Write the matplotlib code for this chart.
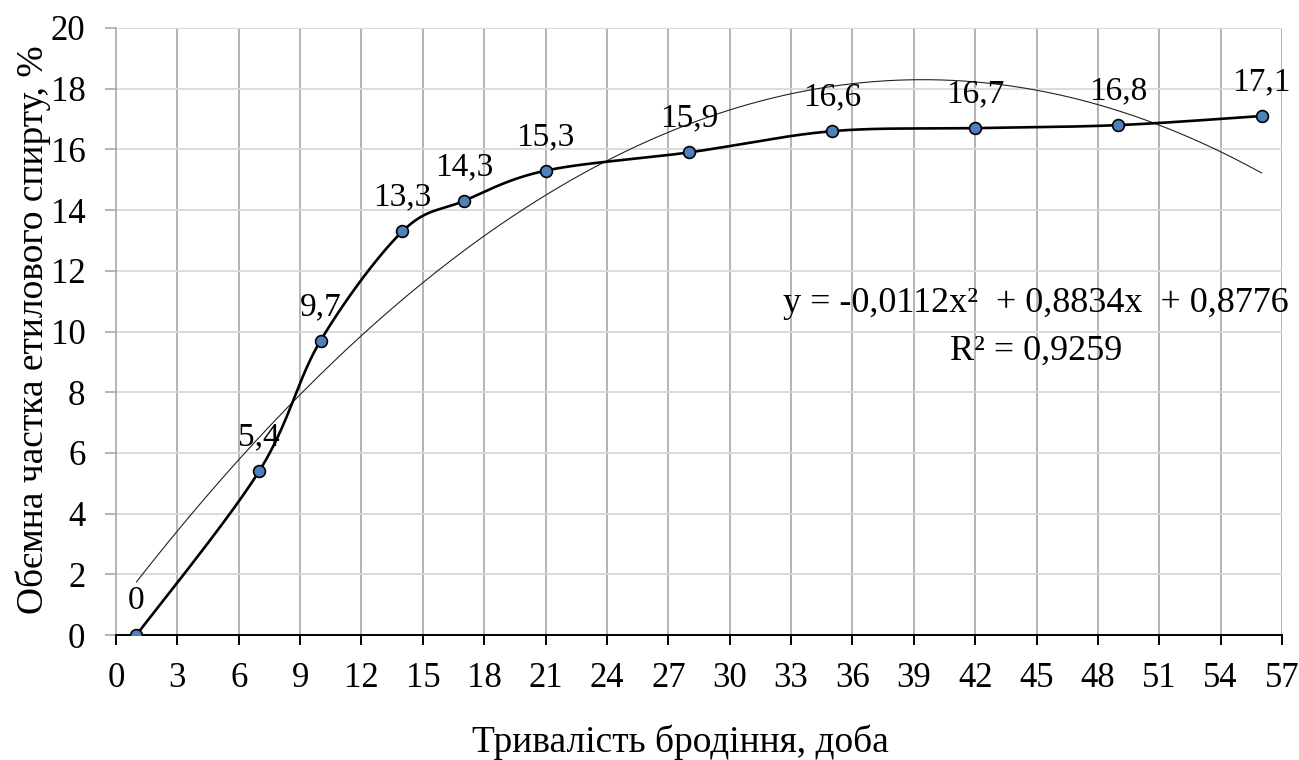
import numpy as np
import matplotlib
matplotlib.use("Agg")
import matplotlib.pyplot as plt

# ---- data ----
days = [1, 7, 10, 14, 17, 21, 28, 35, 42, 49, 56]
ethanol = [0, 5.4, 9.7, 13.3, 14.3, 15.3, 15.9, 16.6, 16.7, 16.8, 17.1]
labels = ["0", "5,4", "9,7", "13,3", "14,3", "15,3", "15,9", "16,6", "16,7", "16,8", "17,1"]
# trendline coefficients shown on chart
coef_a, coef_b, coef_c = -0.0112, 0.8834, 0.8776
eq_line1 = "y = -0,0112x²  + 0,8834x  + 0,8776"
eq_line2 = "R² = 0,9259"
x_ticks = list(range(0, 58, 3))
y_ticks = list(range(0, 21, 2))
x_title = "Тривалість бродіння, доба"
y_title = "Обємна частка етилового спирту, %"

plt.rcParams['font.family'] = ['Liberation Serif', 'DejaVu Serif']
FS_TICK = 25
FS_LAB = 24
FS_EQ = 26
FS_TITLE = 27

W, H = 1299, 760
fig = plt.figure(figsize=(W / 100, H / 100), dpi=100)
ax = fig.add_axes([116 / W, 1 - 635 / H, (1282 - 116) / W, (635 - 28) / H])

# smoothed line (Catmull-Rom -> Bezier, like Excel smoothing)
P = np.column_stack([days, ethanol]).astype(float)
n = len(P)
curve = []
t = np.linspace(0, 1, 40)
for i in range(n - 1):
    p0 = P[i - 1] if i > 0 else P[i]
    p1 = P[i]
    p2 = P[i + 1]
    p3 = P[i + 2] if i + 2 < n else P[i + 1]
    b1 = p1 + (p2 - p0) / 6
    b2 = p2 - (p3 - p1) / 6
    seg = ((1 - t) ** 3)[:, None] * p1 + (3 * (1 - t) ** 2 * t)[:, None] * b1 \
        + (3 * (1 - t) * t ** 2)[:, None] * b2 + (t ** 3)[:, None] * p2
    curve.append(seg)
curve = np.vstack(curve)

# trendline
xt = np.linspace(days[0], days[-1], 300)
yt = coef_a * xt ** 2 + coef_b * xt + coef_c
ax.plot(xt, yt, color="#222222", lw=0.8, zorder=3)

ax.plot(curve[:, 0], curve[:, 1], color="black", lw=1.9, zorder=4, solid_capstyle='round')
ax.plot(days, ethanol, linestyle='none', marker='o', ms=8.5, mfc="#4F81BD",
        mec="black", mew=1.2, zorder=5)

for x, y, lab in zip(days, ethanol, labels):
    ax.annotate(lab, (x, y), xytext=(0, 18.5), textcoords='offset points',
                ha='center', va='baseline', fontsize=FS_LAB, zorder=6)

fig.text(1036 / W, 1 - 312 / H, eq_line1, ha='center', va='baseline', fontsize=FS_EQ, zorder=6)
fig.text(1036 / W, 1 - 360 / H, eq_line2, ha='center', va='baseline', fontsize=FS_EQ, zorder=6)

ax.set_xlim(0, 57)
ax.set_ylim(0, 20)
ax.set_xticks(x_ticks)
ax.set_yticks(y_ticks)
ax.set_xticklabels([str(v) for v in x_ticks], fontsize=FS_TICK)
ax.set_yticklabels([str(v) for v in y_ticks], fontsize=FS_TICK)

for v in x_ticks[1:]:
    ax.axvline(v, color="#A0A0A0", lw=1.1, zorder=1)
for v in y_ticks[1:]:
    ax.axhline(v, color="#D9D9D9", lw=1.3, zorder=1)

for s in ['top', 'right']:
    ax.spines[s].set_visible(False)
ax.spines['left'].set_color("#A0A0A0")
ax.spines['left'].set_linewidth(1.1)
ax.spines['bottom'].set_color("black")
ax.spines['bottom'].set_linewidth(1.4)
ax.tick_params(axis='x', direction='out', length=7.5, width=1.4, color='black', pad=12)
ax.tick_params(axis='y', direction='out', length=8, width=1.1, color='#A0A0A0', pad=14)

fig.text(680 / W, 1 - 752 / H, x_title, ha='center', va='baseline', fontsize=FS_TITLE)
fig.text(43 / W, 1 - 330 / H, y_title, ha='center', va='baseline', rotation=90,
         rotation_mode='anchor', fontsize=FS_TITLE)

fig.savefig("out.png", dpi=100)
